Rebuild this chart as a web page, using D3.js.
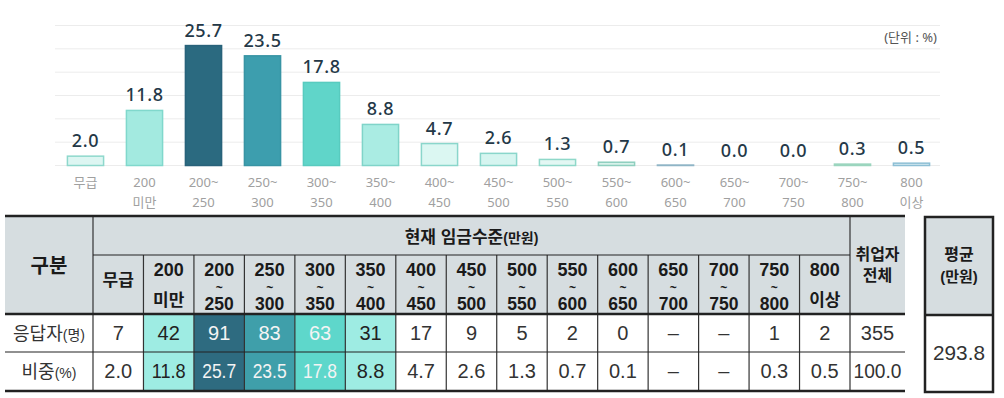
<!DOCTYPE html>
<html><head><meta charset="utf-8">
<script src="https://cdn.jsdelivr.net/npm/d3@7"></script>
<style>body{margin:0;background:#fff} svg{display:block}</style>
</head><body><svg id="c" width="1004" height="398"></svg>
<script>
// ---------- data ----------
const categories = ["무급","200미만","200~250","250~300","300~350","350~400","400~450","450~500","500~550","550~600","600~650","650~700","700~750","750~800","800이상"];
const chartLabels = [["무급"],["200","미만"],["200~","250"],["250~","300"],["300~","350"],["350~","400"],["400~","450"],["450~","500"],["500~","550"],["550~","600"],["600~","650"],["650~","700"],["700~","750"],["750~","800"],["800","이상"]];
const headerLabels = [["무급"],["200","미만"],["200","~","250"],["250","~","300"],["300","~","350"],["350","~","400"],["400","~","450"],["450","~","500"],["500","~","550"],["550","~","600"],["600","~","650"],["650","~","700"],["700","~","750"],["750","~","800"],["800","이상"]];
const shares = [2.0,11.8,25.7,23.5,17.8,8.8,4.7,2.6,1.3,0.7,0.1,0.0,0.0,0.3,0.5];
const respondents = ["7","42","91","83","63","31","17","9","5","2","0","–","–","1","2"];
const shareText = ["2.0","11.8","25.7","23.5","17.8","8.8","4.7","2.6","1.3","0.7","0.1","–","–","0.3","0.5"];
const totalRespondents = "355";
const totalShare = "100.0";
const averageWage = "293.8";
const yTicks = [0,5,10,15,20,25,30];
const unitLabel = "(단위 : %)";

// ---------- styles ----------
const barFill   = ["#ddf6f2","#a3eae0","#2b6a80","#3d9eae","#60d5c9","#aaece3","#dbf7f2","#d6f5f0","#e3f7f3","#d8f2ea","#cfe3ea","#ffffff","#ffffff","#dff2ea","#d8ebf2"];
const barStroke = ["#8ed8cc","#80d8cc","#28627a","#3894a4","#58cbbf","#80d4c9","#8ad6cb","#8ad6cb","#8fd8c9","#8fcfbf","#8fb5c6","none","none","#9bd5be","#8dbfd5"];
const cellFill  = [null,"#9eece3","#2e6b80","#3f9faa","#5ed7cb","#9eece3",null,null,null,null,null,null,null,null,null];
const cellText  = ["#333","#222","#f4f4f4","#f4f4f4","#f4f4f4","#222","#333","#333","#333","#333","#333","#333","#333","#333","#333"];

const svg = d3.select("#c");
const sansFont = "'Noto Sans','Noto Sans CJK KR',sans-serif";
const tableFont = "'Liberation Sans','Noto Sans CJK KR',sans-serif";

// ---------- bar chart ----------
const x = d3.scaleBand().domain(categories).range([56,941]).paddingInner(0.37).paddingOuter(0.185);
const y = d3.scaleLinear().domain([0,30]).range([165.5,25.5]);

svg.append("g").selectAll("line").data(yTicks).join("line")
  .attr("x1",55).attr("x2",940)
  .attr("y1",d=>y(d)).attr("y2",d=>y(d))
  .attr("stroke","#ececec").attr("stroke-width",1);

svg.append("text").attr("x",937).attr("y",42).attr("text-anchor","end")
  .attr("font-family",sansFont).attr("font-size",13).attr("fill","#555").text(unitLabel);

const bars = svg.append("g");
bars.selectAll("rect").data(shares).join("rect")
  .attr("x",(d,i)=>x(categories[i])+0.5)
  .attr("width",x.bandwidth()-1)
  .attr("y",d=>y(d))
  .attr("height",d=>Math.max(0,y(0)-y(d)))
  .attr("fill",(d,i)=>barFill[i])
  .attr("stroke",(d,i)=>d>0?barStroke[i]:"none")
  .attr("stroke-width",1.5);

svg.append("g").selectAll("text").data(shares).join("text")
  .attr("x",(d,i)=>x(categories[i])+x.bandwidth()/2)
  .attr("y",d=>y(d)-9)
  .attr("text-anchor","middle")
  .attr("font-family",sansFont).attr("font-size",18).attr("font-weight",500)
  .attr("letter-spacing",0.6)
  .attr("fill","#243847")
  .text(d=>d.toFixed(1));

const cl = svg.append("g").selectAll("text").data(chartLabels).join("text")
  .attr("x",(d,i)=>x(categories[i])+x.bandwidth()/2)
  .attr("y",187).attr("text-anchor","middle")
  .attr("font-family",sansFont).attr("font-size",13).attr("fill","#a0a0a0");
cl.selectAll("tspan").data(d=>d).join("tspan")
  .attr("x",function(){return this.parentNode.getAttribute("x");})
  .attr("dy",(d,i)=>i===0?0:20).text(d=>d);

// ---------- table ----------
const tx = d3.scaleBand().domain(categories).range([93,850]);
const T = {left:5,right:905,top:216,sub:255,head:314,row1:352,bottom:391,label:93,total:850};
const tb = svg.append("g");

tb.append("rect").attr("x",T.left).attr("y",T.top).attr("width",T.right-T.left).attr("height",T.head-T.top).attr("fill","#d6dde0");
tb.selectAll("rect.cell").data(cellFill).join("rect").attr("class","cell")
  .attr("x",(d,i)=>tx(categories[i])).attr("y",T.head)
  .attr("width",tx.bandwidth()).attr("height",T.bottom-T.head)
  .attr("fill",d=>d||"none");

function hline(yv,x1,x2,w){tb.append("line").attr("x1",x1).attr("x2",x2).attr("y1",yv).attr("y2",yv).attr("stroke","#222").attr("stroke-width",w);}
function vline(xv,y1,y2,w){tb.append("line").attr("x1",xv).attr("x2",xv).attr("y1",y1).attr("y2",y2).attr("stroke","#333").attr("stroke-width",w);}
vline(T.label,T.top,T.bottom,1.2);
vline(T.total,T.top,T.bottom,1.2);
categories.slice(1).forEach(c=>vline(tx(c),T.sub,T.bottom,1.2));
hline(T.sub,T.label,T.total,1.2);
hline(T.row1,T.left,T.right,1.2);
hline(T.top,T.left,T.right,2.5);
hline(T.head,T.left,T.right,2.5);
hline(T.bottom,T.left,T.right,2.5);

function fit(sel,maxW){
  sel.each(function(){
    const w=this.getComputedTextLength();
    if(w>maxW){
      const cx=+this.getAttribute("x"), s=maxW/w;
      this.setAttribute("transform",`translate(${cx*(1-s)},0) scale(${s},1)`);
    }
  });
  return sel;
}
function txt(g,xv,yv,str,size,weight,color){
  return g.append("text").attr("x",xv).attr("y",yv).attr("text-anchor","middle")
    .attr("font-family",tableFont).attr("font-size",size).attr("font-weight",weight||400)
    .attr("fill",color||"#222").text(str);
}

// header texts
txt(tb,49,273,"구분",20,700,"#1a1a1a");
const headTitle = tb.append("text").attr("x",(T.label+T.total)/2).attr("y",243).attr("text-anchor","middle")
  .attr("font-family",tableFont).attr("font-weight",700).attr("fill","#1a1a1a");
headTitle.append("tspan").attr("font-size",17).text("현재  임금수준");
headTitle.append("tspan").attr("font-size",14).text("(만원)");

headerLabels.forEach((lines,i)=>{
  const cx = tx(categories[i])+tx.bandwidth()/2;
  if(lines.length===1){
    txt(tb,cx,286,lines[0],17,700,"#1a1a1a");
    return;
  }
  const t = tb.append("text").attr("x",cx).attr("y",276).attr("text-anchor","middle")
    .attr("font-family",tableFont).attr("font-weight",700).attr("fill","#1a1a1a");
  t.append("tspan").attr("x",cx).attr("font-size",18).text(lines[0]);
  if(lines.length===2){
    t.append("tspan").attr("x",cx).attr("y",306).attr("font-size",17).text(lines[1]);
  } else {
    t.append("tspan").attr("x",cx).attr("y",292).attr("font-size",12).text(lines[1]);
    t.append("tspan").attr("x",cx).attr("y",310).attr("font-size",17.5).text(lines[2]);
  }
});
const tcx=(T.total+T.right)/2;
const tot = tb.append("text").attr("x",tcx).attr("y",260).attr("text-anchor","middle")
  .attr("font-family",tableFont).attr("font-weight",700).attr("font-size",16).attr("fill","#1a1a1a");
tot.append("tspan").attr("x",tcx).text("취업자");
tot.append("tspan").attr("x",tcx).attr("y",281).text("전체");

// row labels
const r1 = tb.append("text").attr("x",49).attr("y",340).attr("text-anchor","middle").attr("font-family",tableFont).attr("fill","#333");
r1.append("tspan").attr("font-size",18).text("응답자");
r1.append("tspan").attr("font-size",14).text("(명)");
const r2 = tb.append("text").attr("x",49).attr("y",378).attr("text-anchor","middle").attr("font-family",tableFont).attr("fill","#333");
r2.append("tspan").attr("font-size",18).text("비중");
r2.append("tspan").attr("font-size",14).text("(%)");

respondents.forEach((v,i)=>{
  const cx=tx(categories[i])+tx.bandwidth()/2;
  fit(txt(tb,cx,340,v,20,400,cellText[i]),36);
});
shareText.forEach((v,i)=>{
  const cx=tx(categories[i])+tx.bandwidth()/2;
  fit(txt(tb,cx,378,v,20,400,cellText[i]),34);
});
fit(txt(tb,tcx,340,totalRespondents,20,400,"#333"),48);
fit(txt(tb,tcx,378,totalShare,20,400,"#333"),48);

// average box
const A={x1:925,x2:993,top:217,head:315,bottom:392};
const ab=svg.append("g");
ab.append("rect").attr("x",A.x1).attr("y",A.top).attr("width",A.x2-A.x1).attr("height",A.head-A.top).attr("fill","#d6dde0");
ab.append("rect").attr("x",A.x1).attr("y",A.top).attr("width",A.x2-A.x1).attr("height",A.bottom-A.top)
  .attr("fill","none").attr("stroke","#222").attr("stroke-width",2.5);
ab.append("line").attr("x1",A.x1).attr("x2",A.x2).attr("y1",A.head).attr("y2",A.head).attr("stroke","#222").attr("stroke-width",2.5);
const acx=(A.x1+A.x2)/2;
const av = ab.append("text").attr("x",acx).attr("y",260).attr("text-anchor","middle")
  .attr("font-family",tableFont).attr("font-weight",700).attr("fill","#1a1a1a");
av.append("tspan").attr("x",acx).attr("font-size",16).text("평균");
av.append("tspan").attr("x",acx).attr("y",282).attr("font-size",15).text("(만원)");
fit(txt(ab,acx,360,averageWage,21,400,"#333"),52);
</script>
</body></html>
